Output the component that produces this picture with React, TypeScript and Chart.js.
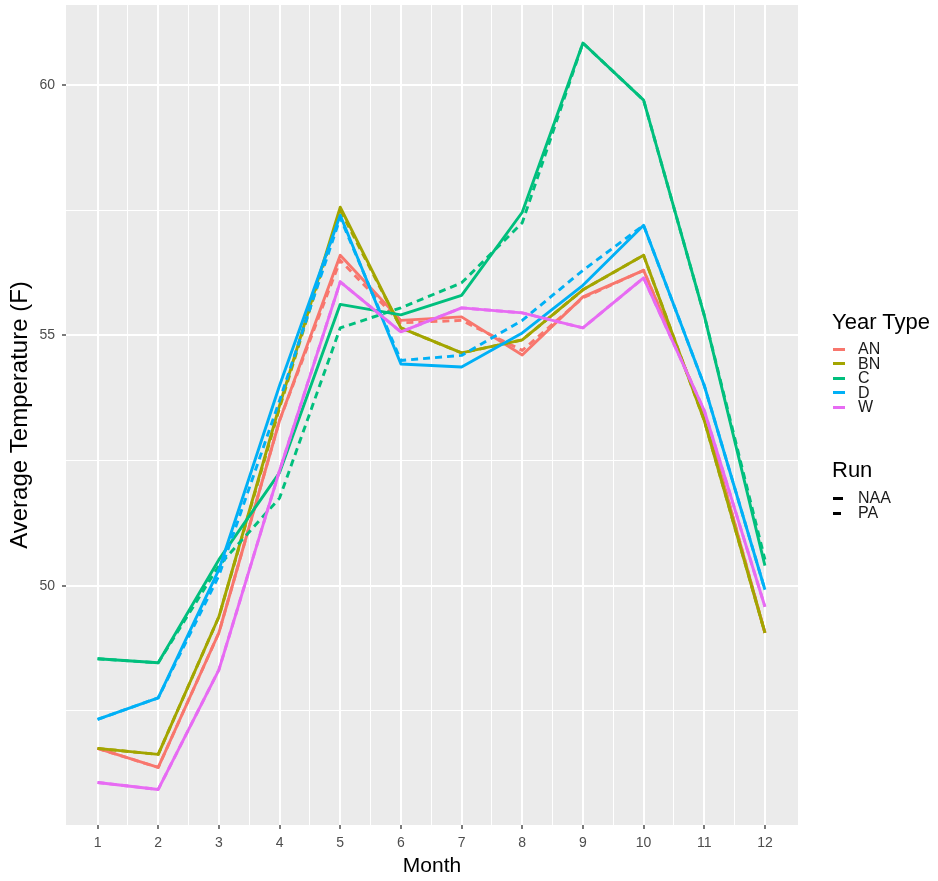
import React, { useEffect, useRef } from "react";
import { Chart, registerables } from "chart.js";

Chart.register(...registerables);

// ---- data ----
const months = [1, 2, 3, 4, 5, 6, 7, 8, 9, 10, 11, 12];
const yearTypes = ["AN", "BN", "C", "D", "W"];
const yearColors = ["#F8766D", "#A3A500", "#00BF7D", "#00B0F6", "#E76BF3"];
const runs = ["NAA", "PA"];

// NAA (solid)
const naaAN = [46.75, 46.37, 49.06, 53.3, 56.6, 55.3, 55.37, 54.61, 55.77, 56.3, 53.45, 49.06];
const naaBN = [46.75, 46.63, 49.38, 53.6, 57.56, 55.15, 54.65, 54.91, 55.91, 56.6, 53.3, 49.06];
const naaC = [48.54, 48.46, 50.52, 52.26, 55.62, 55.41, 55.8, 57.46, 60.84, 59.7, 55.4, 50.4];
const naaD = [47.33, 47.76, 50.32, 54.0, 57.4, 54.43, 54.37, 55.05, 56.0, 57.2, 54.0, 49.92];
const naaW = [46.07, 45.93, 48.32, 52.3, 56.07, 55.07, 55.55, 55.45, 55.15, 56.15, 53.5, 49.58];

// PA (dashed)
const paAN = [46.75, 46.37, 49.06, 53.3, 56.5, 55.25, 55.3, 54.7, 55.75, 56.3, 53.45, 49.06];
const paBN = [46.75, 46.63, 49.38, 53.55, 57.5, 55.15, 54.65, 54.91, 55.91, 56.6, 53.3, 49.06];
const paC = [48.54, 48.46, 50.4, 51.75, 55.15, 55.55, 56.05, 57.25, 60.84, 59.7, 55.4, 50.52];
const paD = [47.33, 47.76, 50.2, 53.7, 57.35, 54.5, 54.6, 55.3, 56.3, 57.2, 54.0, 49.92];
const paW = [46.07, 45.93, 48.32, 52.3, 56.07, 55.07, 55.55, 55.45, 55.15, 56.15, 53.5, 49.58];

const naaSeries = [naaAN, naaBN, naaC, naaD, naaW];
const paSeries = [paAN, paBN, paC, paD, paW];

const xTickValues = [1, 1.5, 2, 2.5, 3, 3.5, 4, 4.5, 5, 5.5, 6, 6.5, 7, 7.5, 8, 8.5, 9, 9.5, 10, 10.5, 11, 11.5, 12];
const yTickValues = [47.5, 50, 52.5, 55, 57.5, 60];
const yLabelValues = [50, 55, 60];

const FONT = "'Liberation Sans', Arial, Helvetica, sans-serif";

const panelBg = {
  id: "panelBg",
  beforeDraw(chart: any) {
    const { ctx, chartArea } = chart;
    ctx.save();
    ctx.fillStyle = "#EBEBEB";
    ctx.fillRect(chartArea.left, chartArea.top, chartArea.right - chartArea.left, chartArea.bottom - chartArea.top);
    ctx.restore();
  },
};

function isInt(v: number) {
  return Math.abs(v - Math.round(v)) < 1e-9;
}

export default function App() {
  const ref = useRef<HTMLCanvasElement | null>(null);

  useEffect(() => {
    if (!ref.current) return;
    const datasets: any[] = [];
    let n = 0;
    const total = yearTypes.length * runs.length;
    yearTypes.forEach((yt, i) => {
      [naaSeries[i], paSeries[i]].forEach((vals, r) => {
        datasets.push({
          label: yt + " " + runs[r],
          data: months.map((m, k) => ({ x: m, y: vals[k] })),
          borderColor: yearColors[i],
          backgroundColor: yearColors[i],
          borderWidth: 2.9,
          borderDash: r === 1 ? [7, 5] : [],
          pointRadius: 0,
          tension: 0,
          fill: false,
          borderJoinStyle: "round",
          order: total - n,
        });
        n++;
      });
    });

    const chart = new Chart(ref.current, {
      type: "line",
      data: { datasets },
      plugins: [panelBg],
      options: {
        animation: false,
        responsive: false,
        devicePixelRatio: 1,
        layout: { padding: { top: 5, right: 140, bottom: 0, left: 0 } },
        plugins: { legend: { display: false }, tooltip: { enabled: false } },
        scales: {
          x: {
            type: "linear",
            min: 0.48,
            max: 12.545,
            afterBuildTicks: (s: any) => {
              s.ticks = xTickValues.map((v) => ({ value: v }));
            },
            afterFit: (s: any) => {
              s.height = 56;
              s.paddingLeft = 0;
              s.paddingRight = 0;
            },
            border: { display: false },
            grid: {
              color: "#FFFFFF",
              lineWidth: (c: any) => (c.tick && isInt(c.tick.value) ? 2 : 1),
              tickColor: (c: any) => (c.tick && isInt(c.tick.value) ? "#333333" : "rgba(0,0,0,0)"),
              tickLength: 4,
              tickWidth: 1.3,
            },
            ticks: {
              autoSkip: false,
              maxRotation: 0,
              color: "#4D4D4D",
              font: { family: FONT, size: 14 },
              padding: 6,
              callback: (v: any) => (isInt(Number(v)) ? String(v) : ""),
            },
            title: {
              display: true,
              text: "Month",
              color: "#000000",
              font: { family: FONT, size: 21 },
              padding: { top: 0, bottom: 2 },
            },
          },
          y: {
            type: "linear",
            min: 45.22,
            max: 61.6,
            afterBuildTicks: (s: any) => {
              s.ticks = yTickValues.map((v) => ({ value: v }));
            },
            afterFit: (s: any) => {
              s.width = 66;
              s.paddingTop = 0;
              s.paddingBottom = 0;
            },
            border: { display: false },
            grid: {
              color: "#FFFFFF",
              lineWidth: (c: any) => (c.tick && yLabelValues.includes(c.tick.value) ? 2 : 1),
              tickColor: (c: any) => (c.tick && yLabelValues.includes(c.tick.value) ? "#333333" : "rgba(0,0,0,0)"),
              tickLength: 4,
              tickWidth: 1.3,
            },
            ticks: {
              autoSkip: false,
              color: "#4D4D4D",
              font: { family: FONT, size: 14 },
              padding: 7,
              callback: (v: any) => (yLabelValues.includes(Number(v)) ? String(v) : ""),
            },
            title: {
              display: true,
              text: "Average Temperature (F)",
              color: "#000000",
              font: { family: FONT, size: 24 },
              padding: { top: 6, bottom: 0 },
            },
          },
        },
      } as any,
    });
    return () => chart.destroy();
  }, []);

  const titleStyle: React.CSSProperties = {
    position: "absolute",
    left: 832,
    fontFamily: FONT,
    fontSize: 22,
    lineHeight: "22px",
    color: "#000",
    whiteSpace: "nowrap",
  };
  const labelStyle: React.CSSProperties = {
    position: "absolute",
    left: 858,
    fontFamily: FONT,
    fontSize: 16,
    lineHeight: "16px",
    color: "#1A1A1A",
    whiteSpace: "nowrap",
  };
  const rowCenters = [349, 363.5, 378, 392.5, 407];
  const runCenters = [498, 513];

  return (
    <div style={{ position: "absolute", left: 0, top: 0, width: 938, height: 881, background: "#FFFFFF", overflow: "hidden" }}>
      <canvas ref={ref} width={938} height={881} style={{ display: "block", width: 938, height: 881 }} />
      <div style={{ ...titleStyle, top: 311 }}>Year Type</div>
      {yearTypes.map((yt, i) => (
        <React.Fragment key={yt}>
          <div style={{ position: "absolute", left: 833, top: rowCenters[i] - 1.5, width: 12, height: 3, background: yearColors[i] }} />
          <div style={{ ...labelStyle, top: rowCenters[i] - 8 }}>{yt}</div>
        </React.Fragment>
      ))}
      <div style={{ ...titleStyle, top: 459 }}>Run</div>
      {runs.map((r, i) => (
        <React.Fragment key={r}>
          <div style={{ position: "absolute", left: 833, top: runCenters[i] - 1.5, width: i === 0 ? 10 : 8, height: 3, background: "#000" }} />
          <div style={{ ...labelStyle, top: runCenters[i] - 8 }}>{r}</div>
        </React.Fragment>
      ))}
    </div>
  );
}
